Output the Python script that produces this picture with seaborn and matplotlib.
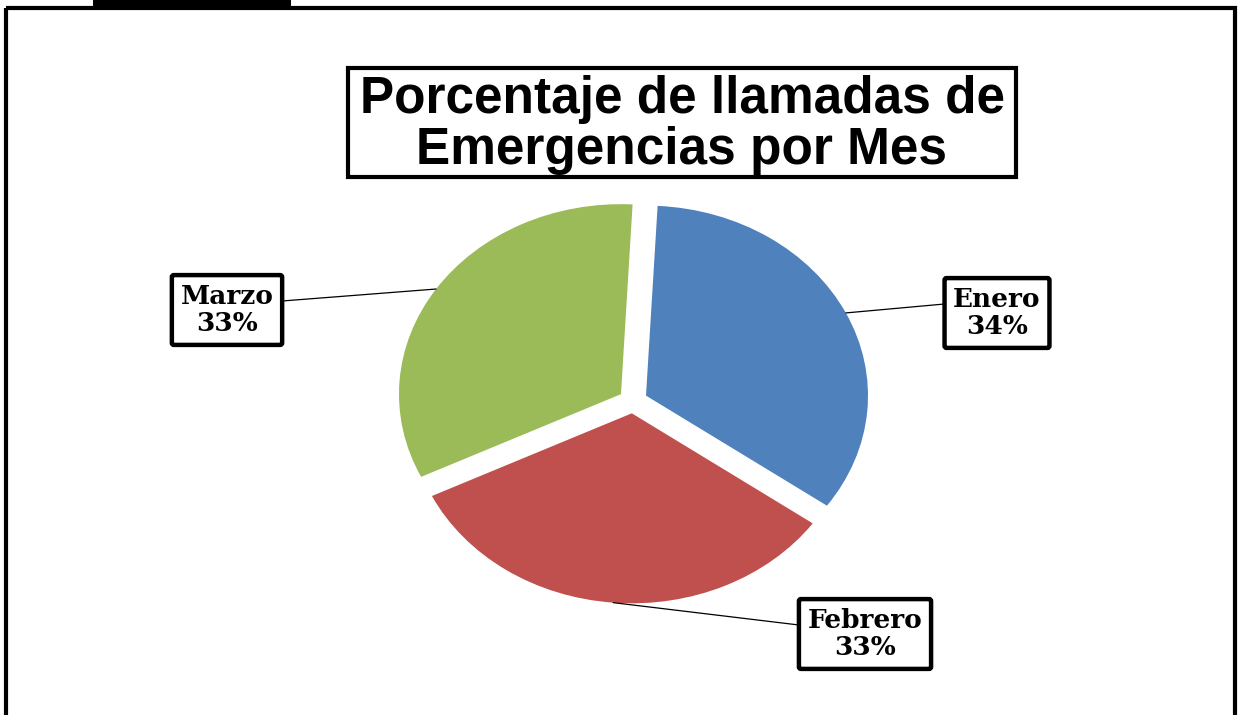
import matplotlib
matplotlib.use('Agg')
import matplotlib.pyplot as plt
from matplotlib.patches import Rectangle
import numpy as np
import seaborn as sns

# datos
meses = ['Enero', 'Febrero', 'Marzo']
porcentajes = [34, 33, 33]
colores = ['#4F81BD', '#C0504D', '#9BBB59']
titulo = 'Porcentaje de llamadas de\nEmergencias por Mes'

# layout (pixels, origin top-left)
label_pos = [(997, 313), (865, 634), (227, 310)]


def main():
    sns.set_theme(style='white')
    fig = plt.figure(figsize=(12.4, 7.15), dpi=100)
    fig.patch.set_facecolor('white')

    # background axes in pixel coords for frame / title box
    bg = fig.add_axes([0, 0, 1, 1])
    bg.set_xlim(0, 1240)
    bg.set_ylim(715, 0)
    bg.axis('off')
    bg.add_patch(Rectangle((6, 8), 1229, 730, fill=False, lw=3.0, ec='black'))
    bg.add_patch(Rectangle((93, -2), 198, 8, color='black', lw=0))
    bg.add_patch(Rectangle((348, 68), 668, 109, fill=False, lw=3.0, ec='black'))
    bg.text(682, 125, titulo, ha='center', va='center', fontsize=37,
            fontweight='bold', family='Liberation Sans', linespacing=1.06,
            color='black')

    # pie axes, stretched a bit horizontally like the original
    cx, cy, rx, ry = 633, 401, 222, 190
    ax = fig.add_axes([(cx - 1.25 * rx) / 1240, (715 - cy - 1.25 * ry) / 715,
                       2.5 * rx / 1240, 2.5 * ry / 715])
    wedges, _ = ax.pie(porcentajes, colors=colores, startangle=87,
                       counterclock=False, explode=[0.065] * 3,
                       wedgeprops=dict(linewidth=0))
    ax.set_aspect('auto')
    ax.set_xlim(-1.25, 1.25)
    ax.set_ylim(-1.25, 1.25)

    labels = []
    for mes, p, (tx, ty) in zip(meses, porcentajes, label_pos):
        t = bg.text(tx, ty, f'{mes}\n{p}%', ha='center', va='center',
                    fontsize=19, fontweight='bold', family='DejaVu Serif',
                    color='black', linespacing=1.12, zorder=5,
                    bbox=dict(boxstyle='round,pad=0.33,rounding_size=0.08',
                              fc='white', ec='black', lw=3.2))
        labels.append(t)

    # leader lines: from the wedge edge to the side of the box, a bit above centre
    fig.canvas.draw()
    inv = bg.transData.inverted()
    for w, t in zip(wedges, labels):
        ang = np.deg2rad((w.theta1 + w.theta2) / 2)
        x0, y0 = w.center
        xy = (x0 + np.cos(ang), y0 + np.sin(ang))
        ext = t.get_bbox_patch().get_window_extent()
        (bx0, by0), (bx1, by1) = inv.transform([[ext.x0, ext.y0], [ext.x1, ext.y1]])
        ax_px = bg.transData.inverted().transform(ax.transData.transform(xy))
        bx = bx0 if ax_px[0] < bx0 else bx1
        by = (by0 + by1) / 2 - 9
        ax.annotate('', xy=xy, xytext=(bx, by), textcoords=bg.transData,
                    annotation_clip=False,
                    arrowprops=dict(arrowstyle='-', color='black', lw=0.9,
                                    shrinkA=0, shrinkB=0))

    fig.savefig('out.png', dpi=100, facecolor='white')


if __name__ == "__main__":
    main()
